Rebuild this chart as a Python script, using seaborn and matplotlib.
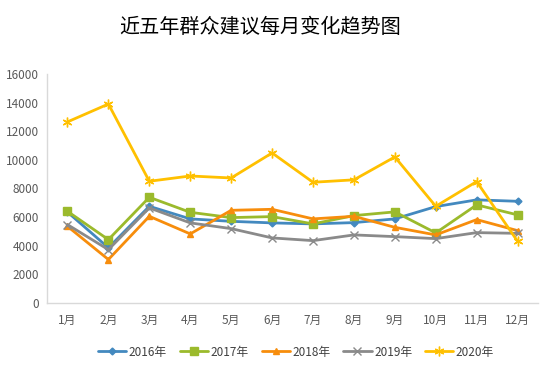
import matplotlib
matplotlib.use("Agg")
import matplotlib.pyplot as plt
import seaborn as sns
import pandas as pd

# --- data ---
months = ["1月", "2月", "3月", "4月", "5月", "6月", "7月", "8月", "9月", "10月", "11月", "12月"]
y2016 = [6350, 3850, 6750, 5870, 5700, 5590, 5520, 5610, 5870, 6730, 7200, 7100]
y2017 = [6400, 4420, 7380, 6330, 5960, 6030, 5520, 6100, 6360, 4890, 6850, 6150]
y2018 = [5350, 3030, 6050, 4820, 6470, 6540, 5870, 6050, 5280, 4750, 5820, 5050]
y2019 = [5470, 3720, 6640, 5590, 5190, 4540, 4350, 4750, 4630, 4490, 4910, 4860]
y2020 = [12650, 13900, 8500, 8870, 8730, 10480, 8430, 8600, 10200, 6750, 8480, 4300]
series_names = ["2016年", "2017年", "2018年", "2019年", "2020年"]

sns.set_theme(style="white")
plt.rcParams["font.family"] = ["Noto Sans CJK SC", "DejaVu Sans"]

rows = []
for name, vals in zip(series_names, [y2016, y2017, y2018, y2019, y2020]):
    for i, v in enumerate(vals):
        rows.append({"idx": i, "year": name, "value": v})
df = pd.DataFrame(rows)

palette = {"2016年": "#4389BF", "2017年": "#9BBA2C", "2018年": "#F78D0C",
           "2019年": "#8A8A8A", "2020年": "#FFC000"}
markers = {"2016年": "D", "2017年": "s", "2018年": "^",
           "2019年": "x", "2020年": (6, 2, 0)}
msizes = {"2016年": 3.5, "2017年": 5.5, "2018年": 5, "2019年": 5.5, "2020年": 7}

fig = plt.figure(figsize=(5.53, 3.68), dpi=100)
ax = fig.add_axes([0.085, 0.177, 0.888, 0.622])

for name in series_names:
    sub = df[df["year"] == name]
    sns.lineplot(data=sub, x="idx", y="value", ax=ax, color=palette[name],
                 marker=markers[name], markersize=msizes[name],
                 markeredgecolor=palette[name], markerfacecolor=palette[name],
                 markeredgewidth=1, linewidth=2, label=name, sort=False)

ax.set_xlim(-0.5, 11.5)
ax.set_ylim(0, 16000)
ax.set_yticks(range(0, 16001, 2000))
ax.set_xticks(range(len(months)))
ax.set_xticklabels(months)
ax.set_xlabel("")
ax.set_ylabel("")
ax.tick_params(axis="both", labelsize=8.5, colors="#595959", length=0)
ax.tick_params(axis="x", pad=8)
ax.tick_params(axis="y", pad=6)
for s in ["top", "right"]:
    ax.spines[s].set_visible(False)
for s in ["left", "bottom"]:
    ax.spines[s].set_color("#D9D9D9")
    ax.spines[s].set_linewidth(1)

ax.legend(loc="upper center", bbox_to_anchor=(0.507, -0.14), ncol=5, frameon=False,
          fontsize=8.5, handlelength=2.4, columnspacing=1.1, handletextpad=0.2,
          labelcolor="#404040")

fig.text(0.47, 0.925, "近五年群众建议每月变化趋势图", ha="center", va="center",
         fontsize=14.5, color="#000000")

fig.savefig("out.png", dpi=100)
